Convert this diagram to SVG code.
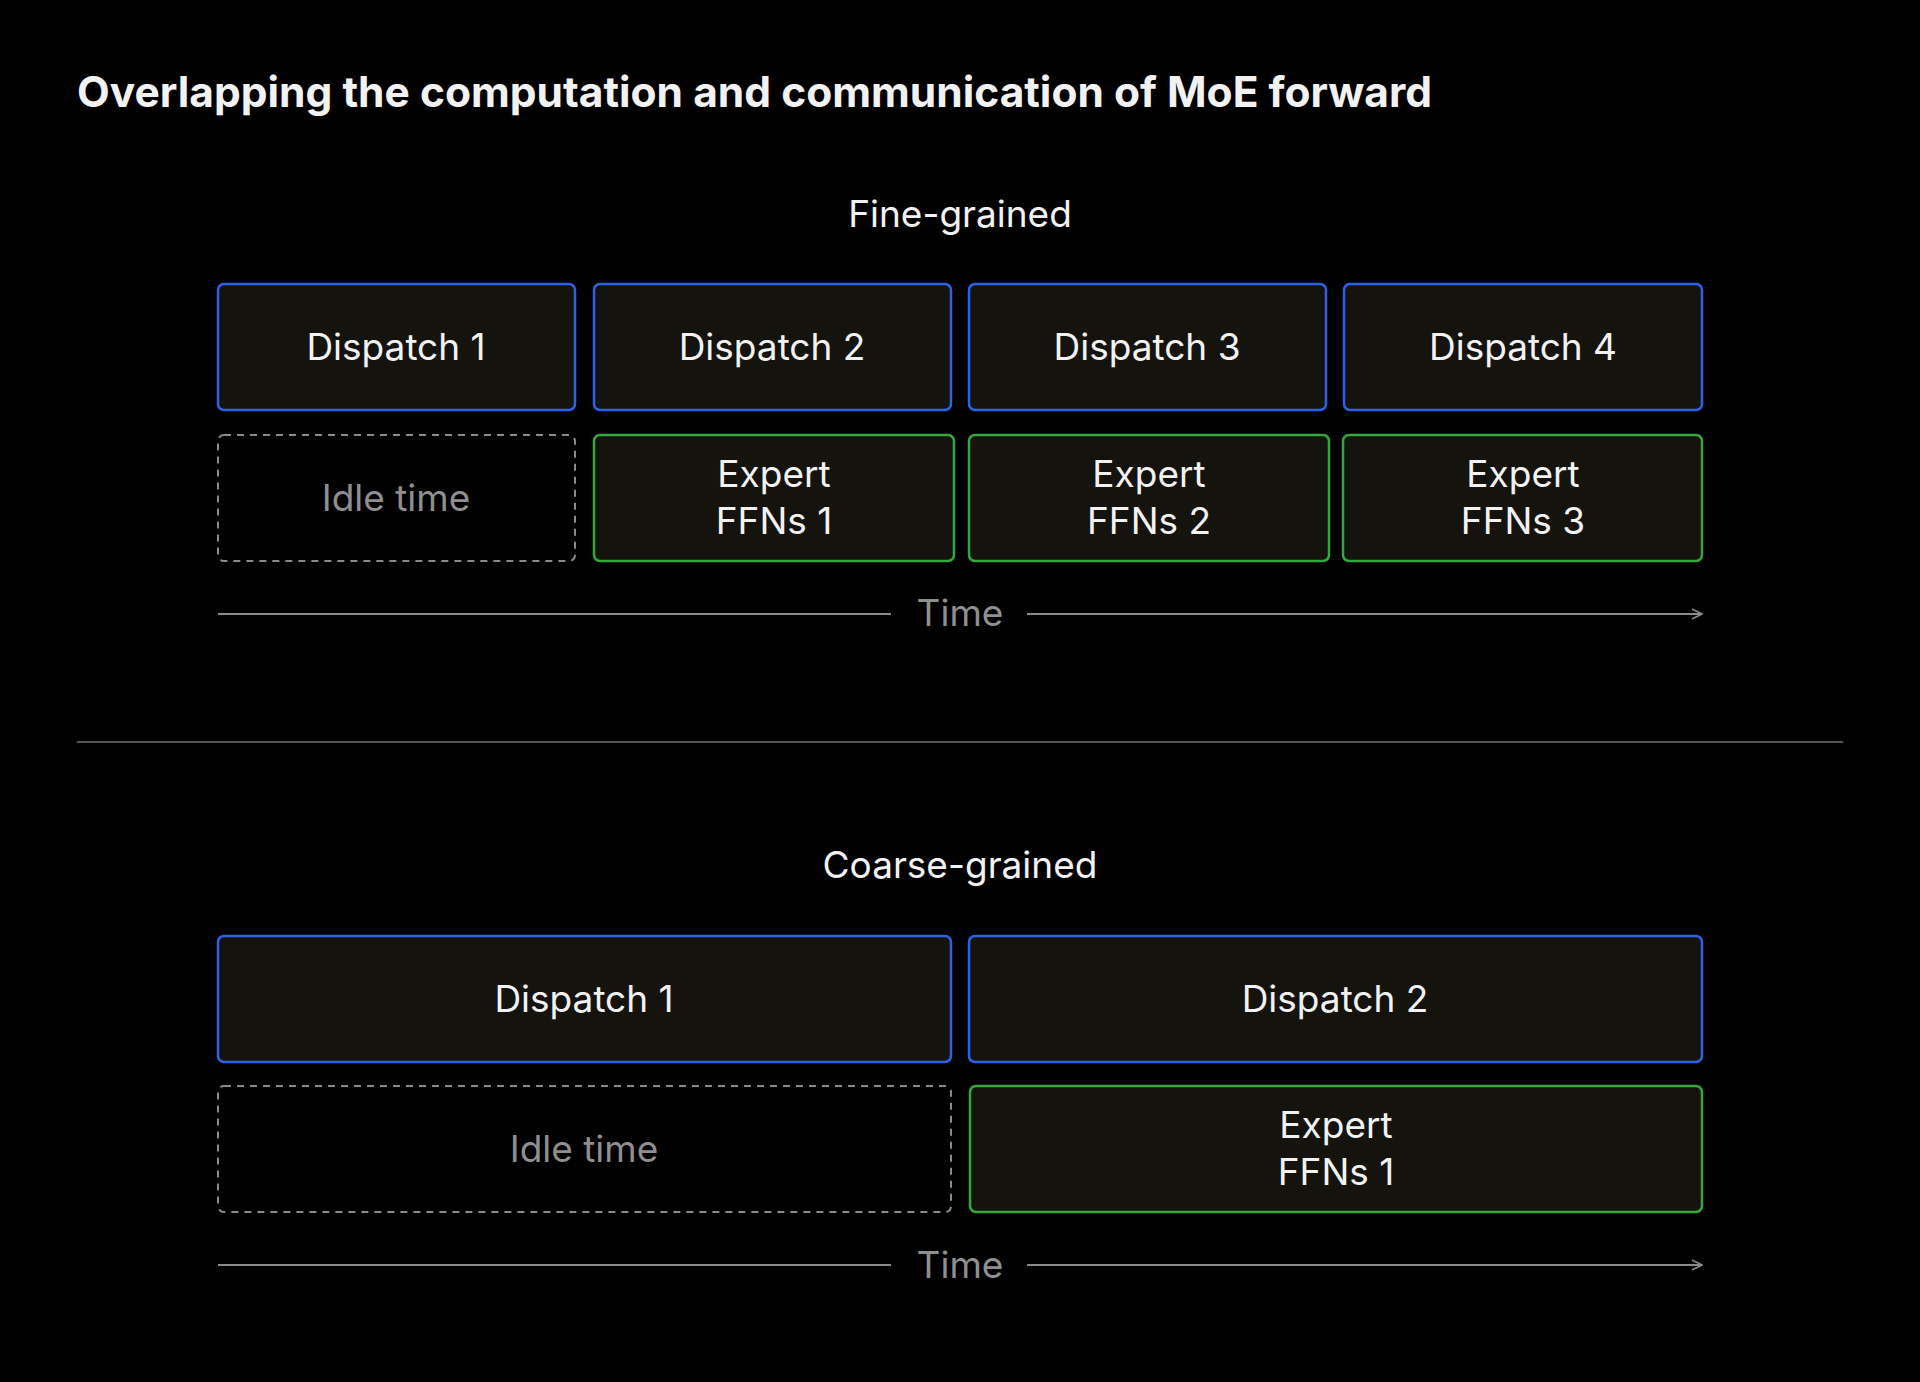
<svg xmlns="http://www.w3.org/2000/svg" width="1920" height="1382" viewBox="0 0 1920 1382">
<style>
text{font-family:Inter,"Liberation Sans",sans-serif;fill:#f2f2f2}
.t{font-size:37px;text-anchor:middle}
.b{fill:#15130e;stroke:#2e62e6;stroke-width:2.5}
.g{fill:#15130e;stroke:#34a83c;stroke-width:2.5}
.i{fill:none;stroke:#8a8a8a;stroke-width:2;stroke-dasharray:7 6}
.it{fill:#8f8f8f}
.ln{stroke:#8a8a8a;stroke-width:2;fill:none}
</style>
<defs><marker id="ar" viewBox="0 0 12 12" refX="11" refY="6" markerWidth="12" markerHeight="12" markerUnits="userSpaceOnUse" orient="auto"><path d="M1 1 L11 6 L1 11" fill="none" stroke="#8a8a8a" stroke-width="1.6"/></marker></defs>
<rect width="1920" height="1382" fill="#000"/>
<text x="77" y="107" style="font-size:42.5px;font-weight:700">Overlapping the computation and communication of MoE forward</text>
<text class="t" x="960" y="227">Fine-grained</text>
<g id="fd1"><rect class="b" x="218" y="284" width="357" height="126" rx="6"/><text class="t" x="396" y="360">Dispatch 1</text></g>
<g id="fd2"><rect class="b" x="594" y="284" width="357" height="126" rx="6"/><text class="t" x="772" y="360">Dispatch 2</text></g>
<g id="fd3"><rect class="b" x="969" y="284" width="357" height="126" rx="6"/><text class="t" x="1147" y="360">Dispatch 3</text></g>
<g id="fd4"><rect class="b" x="1344" y="284" width="358" height="126" rx="6"/><text class="t" x="1523" y="360">Dispatch 4</text></g>
<g id="fidle"><rect class="i" x="218" y="435" width="357" height="126" rx="6"/><text class="t it" x="396" y="511">Idle time</text></g>
<g id="fe1"><rect class="g" x="594" y="435" width="360" height="126" rx="6"/><text class="t" x="774" y="487">Expert</text><text class="t" x="774" y="534">FFNs 1</text></g>
<g id="fe2"><rect class="g" x="969" y="435" width="360" height="126" rx="6"/><text class="t" x="1149" y="487">Expert</text><text class="t" x="1149" y="534">FFNs 2</text></g>
<g id="fe3"><rect class="g" x="1343" y="435" width="359" height="126" rx="6"/><text class="t" x="1523" y="487">Expert</text><text class="t" x="1523" y="534">FFNs 3</text></g>
<text class="t it" x="960" y="626">Time</text>
<line x1="77" y1="742" x2="1843" y2="742" stroke="#555" stroke-width="2"/>
<text class="t" x="960" y="878">Coarse-grained</text>
<g id="cd1"><rect class="b" x="218" y="936" width="733" height="126" rx="6"/><text class="t" x="584" y="1012">Dispatch 1</text></g>
<g id="cd2"><rect class="b" x="969" y="936" width="733" height="126" rx="6"/><text class="t" x="1335" y="1012">Dispatch 2</text></g>
<g id="cidle"><rect class="i" x="218" y="1086" width="733" height="126" rx="6"/><text class="t it" x="584" y="1162">Idle time</text></g>
<g id="ce1"><rect class="g" x="970" y="1086" width="732" height="126" rx="6"/><text class="t" x="1336" y="1138">Expert</text><text class="t" x="1336" y="1185">FFNs 1</text></g>
<text class="t it" x="960" y="1278">Time</text>
<g id="connectors">
<line class="ln" x1="218" y1="614" x2="891" y2="614"/>
<line class="ln" x1="1027" y1="614" x2="1702" y2="614" marker-end="url(#ar)"/>
<line class="ln" x1="218" y1="1265" x2="891" y2="1265"/>
<line class="ln" x1="1027" y1="1265" x2="1702" y2="1265" marker-end="url(#ar)"/>
</g>
</svg>
